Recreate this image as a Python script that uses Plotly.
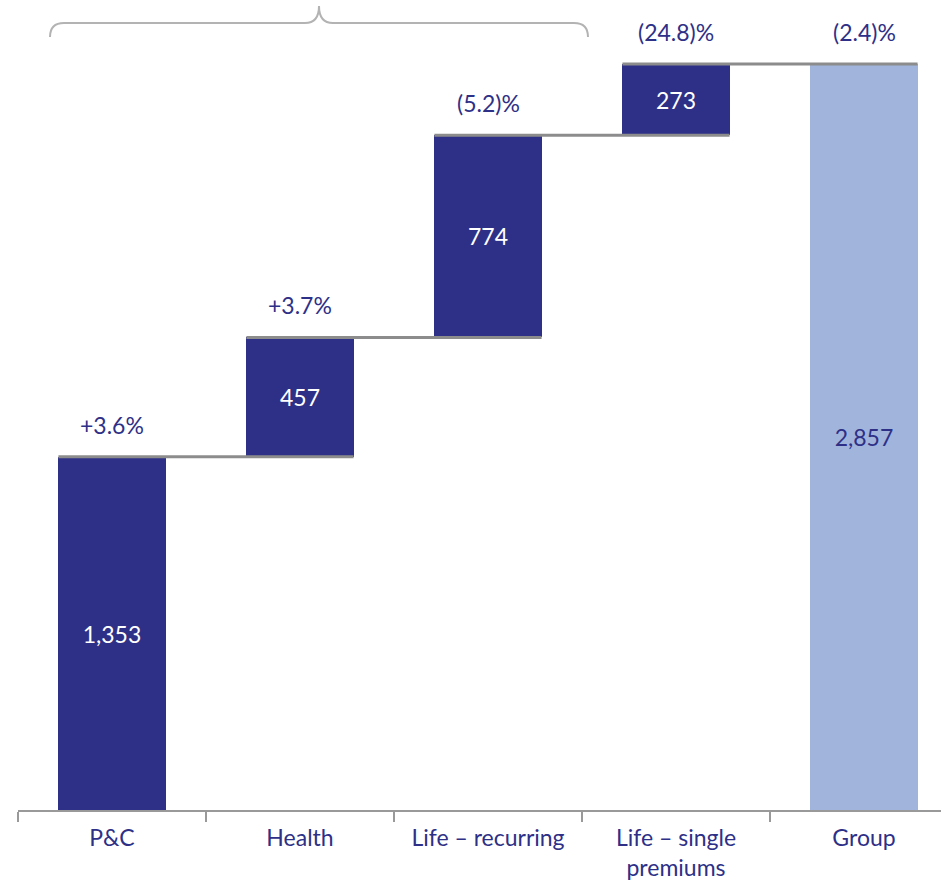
import plotly.graph_objects as go

categories = ["P&C", "Health", "Life – recurring", "Life – single<br>premiums", "Group"]
values = [1353, 457, 774, 273, 2857]
is_total = [False, False, False, False, True]
pct_labels = ["+3.6%", "+3.7%", "(5.2)%", "(24.8)%", "(2.4)%"]
value_labels = ["1,353", "457", "774", "273", "2,857"]

DARK = "#2E3087"
LIGHT = "#A1B4DB"
GRAY = "#8C8C8C"
BW = 0.57
FONT = "Lato"
FS = 23

# compute bases
bases, tops = [], []
cum = 0
for v, t in zip(values, is_total):
    if t:
        bases.append(0)
        tops.append(v)
    else:
        bases.append(cum)
        cum += v
        tops.append(cum)

W, H = 941, 881
ML, MR, MT, MB = 18, 0, 0, 71
plot_w = W - ML - MR
plot_h = H - MT - MB
px_per_cat = 188
x_range = [-0.5, -0.5 + plot_w / px_per_cat]
px_per_unit = 746 / 2857
y_range = [0, plot_h / px_per_unit]

fig = go.Figure()
fig.add_trace(go.Bar(
    x=list(range(len(categories))),
    y=[t - b for t, b in zip(tops, bases)],
    base=bases,
    width=BW,
    marker=dict(color=[LIGHT if t else DARK for t in is_total], line=dict(width=0)),
    text=value_labels,
    textposition="inside",
    insidetextanchor="middle",
    textfont=dict(color=["#FFFFFF" if not t else DARK for t in is_total], size=FS, family=FONT),
    hoverinfo="skip",
))

shapes = []
# connector lines
for i in range(len(values) - 1):
    shapes.append(dict(type="line", xref="x", yref="y",
                       x0=i - BW / 2, x1=i + 1 + BW / 2, y0=tops[i], y1=tops[i],
                       line=dict(color=GRAY, width=3), layer="above"))

# brace (pixel positions converted to data)
def dx(px):
    return (px - ML) / px_per_cat - 0.5

def dy(py):
    return (H - MB - py) / px_per_unit

L, R, C = 50, 588, 319
yb, yh, yp, r = 37, 23, 6, 14
pts = [
    f"M {dx(L)},{dy(yb)}",
    f"Q {dx(L)},{dy(yh)} {dx(L + r)},{dy(yh)}",
    f"L {dx(C - r)},{dy(yh)}",
    f"Q {dx(C)},{dy(yh)} {dx(C)},{dy(yp)}",
    f"Q {dx(C)},{dy(yh)} {dx(C + r)},{dy(yh)}",
    f"L {dx(R - r)},{dy(yh)}",
    f"Q {dx(R)},{dy(yh)} {dx(R)},{dy(yb)}",
]
shapes.append(dict(type="path", xref="x", yref="y", path=" ".join(pts),
                   line=dict(color="#B3B3B3", width=2)))

annotations = []
for i, lab in enumerate(pct_labels):
    annotations.append(dict(x=i, y=tops[i], xref="x", yref="y", text=lab,
                            showarrow=False, yanchor="middle", yshift=32,
                            font=dict(color=DARK, size=FS, family=FONT)))

fig.update_layout(
    width=W, height=H,
    margin=dict(l=ML, r=MR, t=MT, b=MB, pad=0),
    plot_bgcolor="white", paper_bgcolor="white",
    showlegend=False,
    shapes=shapes,
    annotations=annotations,
    bargap=0,
    uniformtext=dict(minsize=FS, mode="show"),
)
fig.update_xaxes(
    type="category",
    tickmode="array",
    tickvals=list(range(len(categories))),
    ticktext=categories,
    range=x_range,
    tickson="boundaries",
    ticks="outside", ticklen=10, tickcolor="#999999", tickwidth=1.5,
    ticklabelstandoff=6,
    showline=True, linecolor="#999999", linewidth=2,
    showgrid=False, zeroline=False,
    tickfont=dict(color=DARK, size=FS, family=FONT),
)
fig.update_yaxes(range=y_range, visible=False, showgrid=False, zeroline=False)

fig.write_html("out.html")
